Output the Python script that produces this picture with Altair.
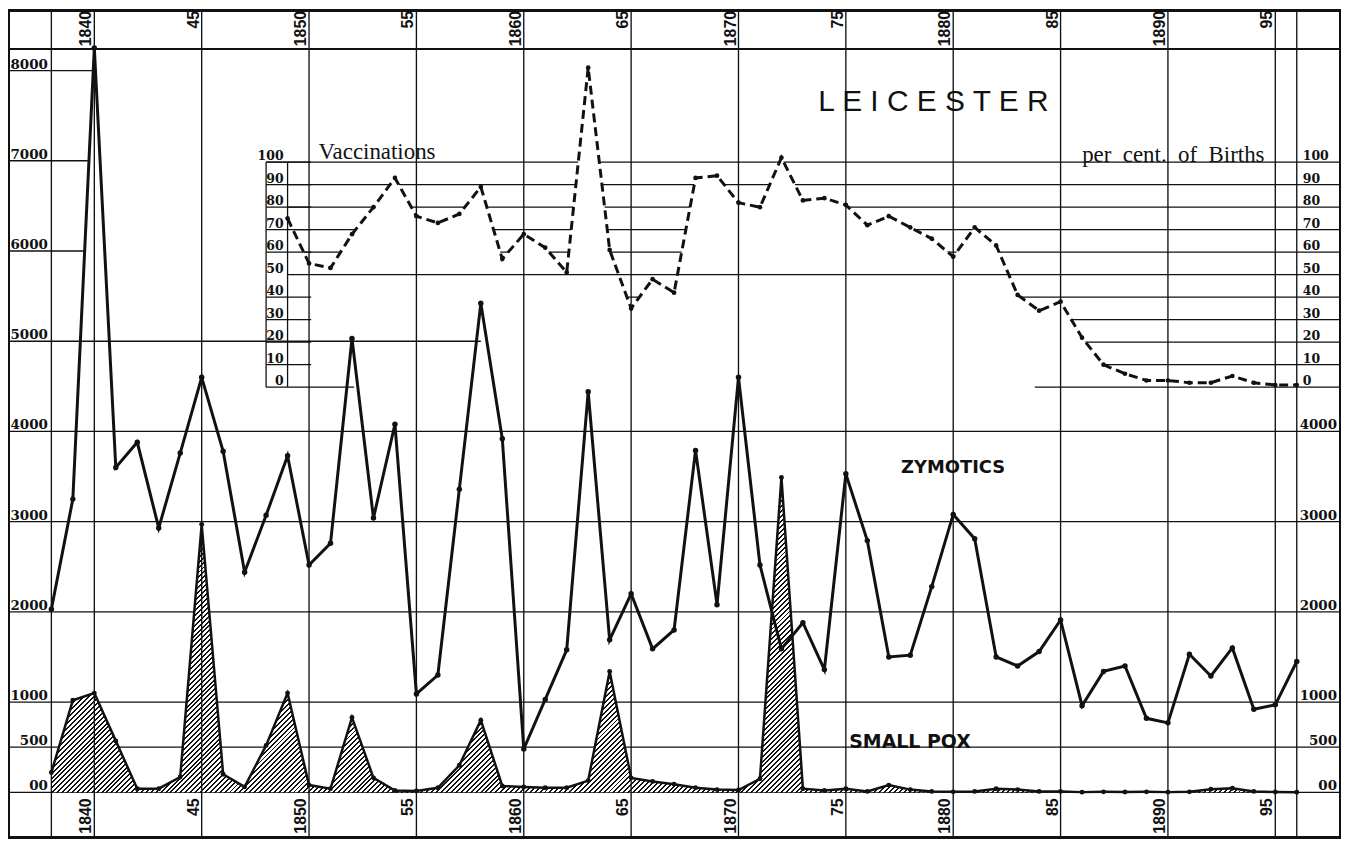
import math
import altair as alt
import pandas as pd

# ---------------- data ----------------
years = list(range(1838, 1897))
zymotics = [2030, 3250, 8250, 3600, 3880, 2930, 3760, 4600, 3780, 2440,
            3070, 3730, 2520, 2760, 5030, 3040, 4080, 1090, 1300, 3360,
            5420, 3920, 480, 1030, 1580, 4440, 1690, 2200, 1590, 1800,
            3790, 2080, 4600, 2520, 1590, 1880, 1360, 3530, 2790, 1500,
            1520, 2280, 3080, 2810, 1500, 1400, 1560, 1910, 960, 1340,
            1400, 820, 770, 1530, 1290, 1600, 920, 970, 1450]
small_pox = [220, 1020, 1100, 570, 40, 40, 170, 2970, 200, 60,
             520, 1100, 80, 40, 830, 160, 20, 15, 50, 300,
             800, 70, 60, 50, 50, 130, 1340, 160, 120, 90,
             50, 30, 25, 150, 3490, 40, 20, 40, 10, 80,
             30, 10, 5, 10, 40, 30, 10, 10, 2, 5,
             3, 5, 2, 5, 35, 45, 10, 3, 1]
vacc_years = list(range(1849, 1897))
vaccination = [75, 55, 53, 68, 80, 93, 76, 73, 77, 89,
               57, 68, 62, 51, 142, 61, 35, 48, 42, 93,
               94, 82, 80, 102, 83, 84, 81, 72, 76, 71,
               66, 58, 71, 63, 41, 34, 38, 22, 10, 6,
               3, 3, 2, 2, 5, 2, 1, 1]

tick_years = [1840, 1845, 1850, 1855, 1860, 1865, 1870, 1875, 1880, 1885, 1890, 1895]
tick_labels = ["1840", "45", "1850", "55", "1860", "65", "1870", "75", "1880", "85", "1890", "95"]
grid_years = [1838] + tick_years + [1896]

left_values = [8000, 7000, 6000, 5000, 4000, 3000, 2000, 1000, 500, 0]
left_labels = ["8000", "7000", "6000", "5000", "4000", "3000", "2000", "1000", "500", "00"]
right_values = [4000, 3000, 2000, 1000, 500, 0]
right_labels = ["4000", "3000", "2000", "1000", "500", "00"]
vacc_ticks = [100, 90, 80, 70, 60, 50, 40, 30, 20, 10, 0]
vacc_tick_labels = ["100", "90", "80", "70", "60", "50", "40", "30", "20", "10", "0"]

# ---------------- layout / style ----------------
W, H = 1339, 832
X_DOM = [1835.98, 1898.06]
ZY_DOM = [-508, 8673]
VA_DOM = [-200.4, 167.7]
INK = "#111111"
GRID_W = 1.35

XS = alt.Scale(domain=X_DOM, nice=False, zero=False)
ZS = alt.Scale(domain=ZY_DOM, nice=False, zero=False)
VS = alt.Scale(domain=VA_DOM, nice=False, zero=False)


def X(f):
    return alt.X(f, type="quantitative", scale=XS, axis=None)


def YZ(f):
    return alt.Y(f, type="quantitative", scale=ZS, axis=None)


def YV(f):
    return alt.Y(f, type="quantitative", scale=VS, axis=None)


main = pd.DataFrame({"year": years, "zym": zymotics, "pox": small_pox})
vac = pd.DataFrame({"year": vacc_years, "v": vaccination})

# grid line extents (structure of the printed grid)
zy_grid = pd.DataFrame({
    "v": [0, 500, 1000, 2000, 3000, 4000, 5000, 6000, 7000, 8000],
    "x0": [X_DOM[0]] * 10,
    "x1": [X_DOM[1]] * 6 + [1858.0, 1839.55, 1839.7, 1839.9],
})
masked_levels = [100, 90, 80, 70, 60, 40, 30, 20, 10]
vac_masked = pd.DataFrame({
    "v": masked_levels,
    "x0": [1848 if l == 100 else 1849 for l in masked_levels],
    "x1": [X_DOM[1]] * len(masked_levels),
})
col_levels = [100, 90, 80, 70, 60, 40, 30, 20, 10]
vac_front = pd.DataFrame({
    "v": [50, 0, 0] + col_levels,
    "x0": [1849, 1848, 1883.8] + [1848] * len(col_levels),
    "x1": [X_DOM[1], 1852.1, X_DOM[1]] + [1850.1] * len(col_levels),
})
box = pd.DataFrame({"x": [1848, 1849], "v0": [0, 0], "v1": [100, 100]})
vgrid = pd.DataFrame({"year": grid_years})

# diagonal hatch as a striped linear gradient
px_year = W / (X_DOM[1] - X_DOM[0])
px_unit = H / (ZY_DOM[1] - ZY_DOM[0])
bw = (years[-1] - years[0]) * px_year
bh = max(small_pox) * px_unit
r = bh / bw
k = (1 + r) / (1 + r * r)
n_stripes = int(round((bw + bh) / math.sqrt(2) / 3.5))
stops = []
for i in range(n_stripes):
    a = i / n_stripes
    b = (i + 0.4) / n_stripes
    c = (i + 1) / n_stripes
    stops += [alt.GradientStop(color=INK, offset=a), alt.GradientStop(color=INK, offset=b),
              alt.GradientStop(color="white", offset=b), alt.GradientStop(color="white", offset=c)]
hatch = alt.LinearGradient(gradient="linear", stops=stops, x1=0, y1=0, x2=k, y2=k * r)

layers = []

# inset lines that are only visible above the vaccination curve
layers.append(alt.Chart(vac_masked).mark_rule(color=INK, strokeWidth=1.2).encode(
    x=X("x0"), x2="x1", y=YV("v")))
layers.append(alt.Chart(vac).mark_area(fill="white", opacity=1).encode(
    x=X("year"), y=YV("v"), y2=alt.datum(0)))
layers.append(alt.Chart(vac_front).mark_rule(color=INK, strokeWidth=1.2).encode(
    x=X("x0"), x2="x1", y=YV("v")))
layers.append(alt.Chart(box).mark_rule(color=INK, strokeWidth=1.3).encode(
    x=X("x"), y=YV("v0"), y2="v1"))

# zymotic scale grid
layers.append(alt.Chart(zy_grid).mark_rule(color=INK, strokeWidth=GRID_W).encode(
    x=X("x0"), x2="x1", y=YZ("v")))

# small pox hatched area
layers.append(alt.Chart(main).mark_area(fill=hatch, opacity=1).encode(
    x=X("year"), y=YZ("pox"), y2=alt.datum(0)))

# vertical year lines
layers.append(alt.Chart(vgrid).mark_rule(color=INK, strokeWidth=GRID_W).encode(
    x=X("year"), y=alt.value(0), y2=alt.value(H)))

# frame
layers.append(alt.Chart(vgrid).mark_rule(color=INK, strokeWidth=1.8).encode(
    x=alt.value(0.9), x2=alt.value(W - 0.9), y=alt.value(0.9)))
layers.append(alt.Chart(vgrid).mark_rule(color=INK, strokeWidth=1.5).encode(
    x=alt.value(0), x2=alt.value(W), y=alt.value(39)))
layers.append(alt.Chart(vgrid).mark_rule(color=INK, strokeWidth=1.8).encode(
    x=alt.value(0), x2=alt.value(W), y=alt.value(H - 0.9)))
layers.append(alt.Chart(vgrid).mark_rule(color=INK, strokeWidth=1.8).encode(
    x=alt.value(0.9), y=alt.value(0), y2=alt.value(H)))
layers.append(alt.Chart(vgrid).mark_rule(color=INK, strokeWidth=1.8).encode(
    x=alt.value(W - 0.9), y=alt.value(0), y2=alt.value(H)))

# series
layers.append(alt.Chart(main).mark_line(color=INK, strokeWidth=2.5).encode(
    x=X("year"), y=YZ("pox")))
layers.append(alt.Chart(main).mark_circle(color=INK, size=24, opacity=1).encode(
    x=X("year"), y=YZ("pox")))
layers.append(alt.Chart(main).mark_line(color=INK, strokeWidth=3).encode(
    x=X("year"), y=YZ("zym")))
layers.append(alt.Chart(main).mark_circle(color=INK, size=30, opacity=1).encode(
    x=X("year"), y=YZ("zym")))
layers.append(alt.Chart(vac).mark_line(color=INK, strokeWidth=3, strokeDash=[9, 5]).encode(
    x=X("year"), y=YV("v")))
layers.append(alt.Chart(vac).mark_circle(color=INK, size=22, opacity=1).encode(
    x=X("year"), y=YV("v")))

# year labels
ylab = pd.DataFrame({"year": tick_years, "label": tick_labels})
for ypos in (1, 792):
    layers.append(alt.Chart(ylab).mark_text(
        angle=270, align="right", baseline="bottom", font="Liberation Sans",
        fontWeight="bold", fontSize=16, color=INK).encode(
        x=X("year"), y=alt.value(ypos), text="label:N"))

# left / right death scale labels
lz = pd.DataFrame({"v": left_values, "label": left_labels})
layers.append(alt.Chart(lz).mark_text(
    align="right", baseline="alphabetic", dy=-2, font="DejaVu Serif", fontWeight="bold",
    fontSize=13.5, color=INK).encode(x=alt.value(40), y=YZ("v"), text="label:N"))
rz = pd.DataFrame({"v": right_values, "label": right_labels})
layers.append(alt.Chart(rz).mark_text(
    align="right", baseline="alphabetic", dy=-2, font="DejaVu Serif", fontWeight="bold",
    fontSize=13.5, color=INK).encode(x=alt.value(W - 4), y=YZ("v"), text="label:N"))

# vaccination scale labels
lv = pd.DataFrame({"v": vacc_ticks, "label": vacc_tick_labels})
layers.append(alt.Chart(lv).mark_text(
    align="right", baseline="alphabetic", dx=-4, dy=-2, font="DejaVu Serif", fontWeight="bold",
    fontSize=12.5, color=INK).encode(x=alt.datum(1849), y=YV("v"), text="label:N"))
rv = pd.DataFrame({"v": vacc_ticks,
                   "label": [t if t != "0" else "\u20070" for t in vacc_tick_labels]})
layers.append(alt.Chart(rv).mark_text(
    align="left", baseline="alphabetic", dx=6, dy=-2, font="DejaVu Serif", fontWeight="bold",
    fontSize=12.5, color=INK).encode(x=alt.datum(1896), y=YV("v"), text="label:N"))

# titles and series names
def note(txt, x, y, **kw):
    return alt.Chart(pd.DataFrame({"t": [txt]})).mark_text(
        align="left", baseline="alphabetic", color=INK, **kw).encode(
        x=alt.value(x), y=alt.value(y), text="t:N")

layers.append(note("L E I C E S T E R", 814, 102, font="Liberation Sans", fontSize=30))
layers.append(note("Vaccinations", 312, 150, font="Liberation Serif", fontSize=23))
layers.append(note("per\u00a0 cent.\u00a0 of\u00a0 Births", 1079, 153, font="Liberation Serif", fontSize=23))
layers.append(note("ZYMOTICS", 897, 465, font="DejaVu Sans", fontWeight="bold", fontSize=18))
layers.append(note("SMALL POX", 845, 741, font="DejaVu Sans", fontWeight="bold", fontSize=19))

chart = alt.layer(*layers).resolve_scale(y="independent").properties(
    width=W, height=H, padding=0, autosize=alt.AutoSizeParams(type="none"),
    background="white",
).configure_view(strokeWidth=0)

chart.save("out.html", embed_options={"renderer": "svg", "actions": False})
